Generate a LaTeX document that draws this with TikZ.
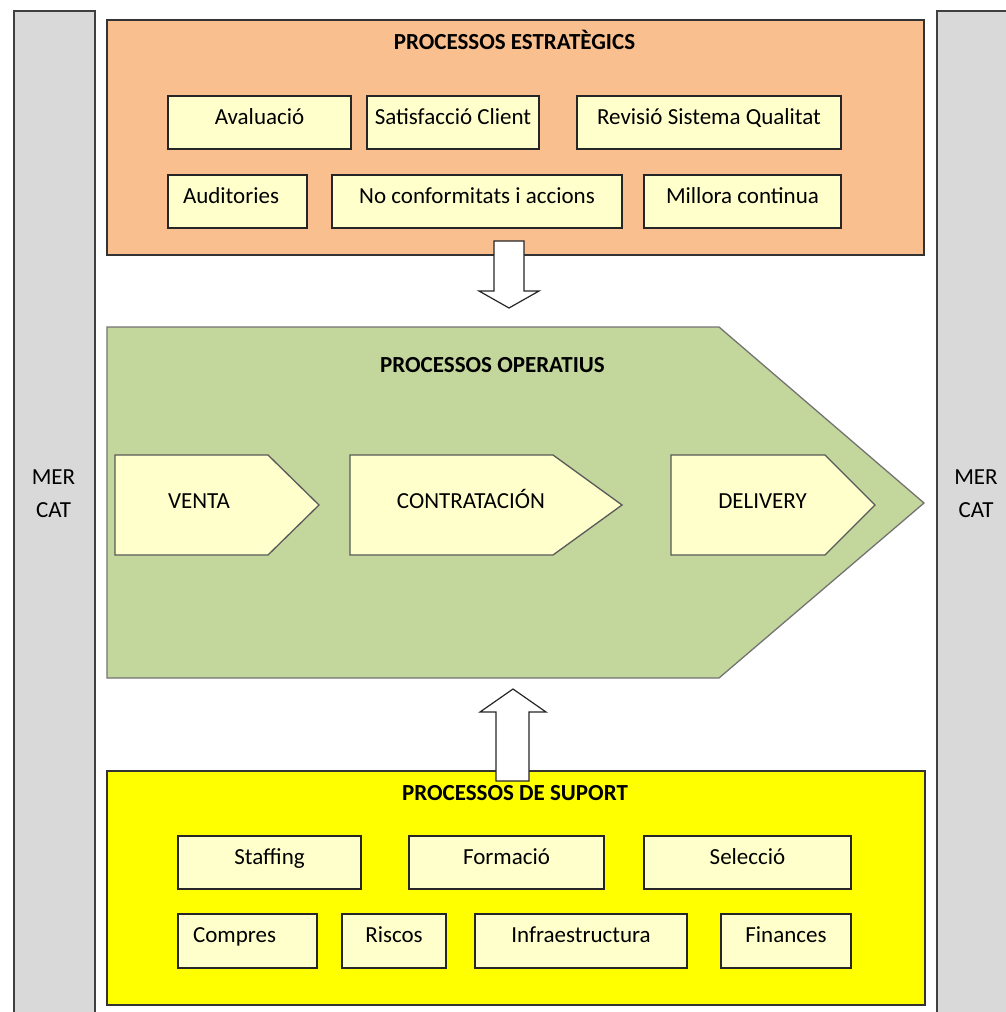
\documentclass[tikz,border=0pt]{standalone}
\usepackage{fontspec}
\setmainfont{Carlito}
\definecolor{taronja}{HTML}{F9BF8F}
\definecolor{verd}{HTML}{C3D69B}
\definecolor{crema}{HTML}{FFFFCC}
\definecolor{groc}{HTML}{FFFF00}
\definecolor{gris}{HTML}{D9D9D9}
\tikzset{
	caixa/.style={draw=black!85, fill=crema, line width=1.3pt, inner sep=0pt, minimum height=53pt, text height=15pt, text depth=12pt},
	caixaesq/.style={caixa, align=left, inner xsep=15pt},
	bloc/.style={draw=black!80, line width=1.3pt, inner sep=0pt},
	titol/.style={font=\fontsize{23}{28}\selectfont\bfseries, text height=14.8pt, text depth=0pt, inner sep=0pt},
	etiq/.style={text height=14.8pt, text depth=0pt, inner sep=0pt},
	xevron/.style={draw=black!65, fill=crema, line width=1.3pt},
	fletxa/.style={draw=black!85, fill=white, line width=1.2pt, line join=miter},
}

\begin{document}
\begin{tikzpicture}[x=1pt, y=-1pt, font=\fontsize{23}{28}\selectfont]
		\useasboundingbox (0,0) rectangle (1005,1012);
		\begin{scope}
			\draw[fill=gris, draw=black!75, line width=1.3pt] (14,11) rectangle (95,1030);
			\draw[fill=gris, draw=black!75, line width=1.3pt] (937,11) rectangle (1030,1030);
			\node[etiq] (merE) at (53.5,477.5) {MER};
			\node[etiq] (catE) at (53.5,510.5) {CAT};
			\node[etiq] (merD) at (976,477.5) {MER};
			\node[etiq] (catD) at (976,510.5) {CAT};
		
			\node[bloc, fill=taronja, minimum width=817pt, minimum height=235pt] (estrat) at (515.5,137.5) {};
			\node[titol] (tEstrat) at (514.5,42.5) {PROCESSOS ESTRATÈGICS};
			\node[caixa, minimum width=183pt] (aval) at (259.5,122.5) {Avaluació};
			\node[caixa, minimum width=172pt] (satisf) at (453,122.5) {Satisfacció Client};
			\node[caixa, minimum width=264pt] (revisio) at (709,122.5) {Revisió Sistema Qualitat};
			\node[caixaesq, text width=109pt] (audit) at (237.5,201.5) {Auditories};
			\node[caixa, minimum width=290pt] (noconf) at (477,201.5) {No conformitats i accions};
			\node[caixa, minimum width=197pt] (millora) at (742.5,201.5) {Millora continua};
		
			\draw[fill=verd, draw=black!55, line width=1.3pt] (107,327) -- (719,327) -- (924,503) -- (719,678) -- (107,678) -- cycle;
			\node[titol] (tOper) at (492.5,365.5) {PROCESSOS OPERATIUS};
			\draw[xevron] (115,455) -- (268,455) -- (319,505) -- (268,555) -- (115,555) -- cycle;
			\draw[xevron] (350,455) -- (553,455) -- (622,505) -- (553,555) -- (350,555) -- cycle;
			\draw[xevron] (671,455) -- (825,455) -- (875,505) -- (825,555) -- (671,555) -- cycle;
			\node[etiq] (venta) at (199,500.8) {VENTA};
			\node[etiq] (contr) at (471,500.8) {CONTRATACIÓN};
			\node[etiq] (deliv) at (762.5,500.8) {DELIVERY};
		
			\node[bloc, fill=groc, minimum width=818pt, minimum height=234pt] (suport) at (516,888) {};
			\node[titol] (tSuport) at (515,793.3) {PROCESSOS DE SUPORT};
			\node[caixa, minimum width=183pt] (staff) at (269.5,862.5) {Staffing};
			\node[caixa, minimum width=195pt] (formacio) at (506.5,862.5) {Formació};
			\node[caixa, minimum width=207pt] (seleccio) at (747.5,862.5) {Selecció};
			\node[caixaesq, text width=109pt, minimum height=54pt] (compres) at (247.5,941) {Compres};
			\node[caixa, minimum width=104pt, minimum height=54pt] (riscos) at (394,941) {Riscos};
			\node[caixa, minimum width=212pt, minimum height=54pt] (infra) at (581,941) {Infraestructura};
			\node[caixa, minimum width=130pt, minimum height=54pt] (finances) at (786,941) {Finances};
		
			\draw[fletxa] (494,241) -- (524,241) -- (524,291) -- (539,291) -- (509,308) -- (479,291) -- (494,291) -- cycle;
			\draw[fletxa] (496,781) -- (496,712) -- (480,712) -- (513,689) -- (546,712) -- (529,712) -- (529,781) -- cycle;
		\end{scope}
	\end{tikzpicture}
\end{document}
